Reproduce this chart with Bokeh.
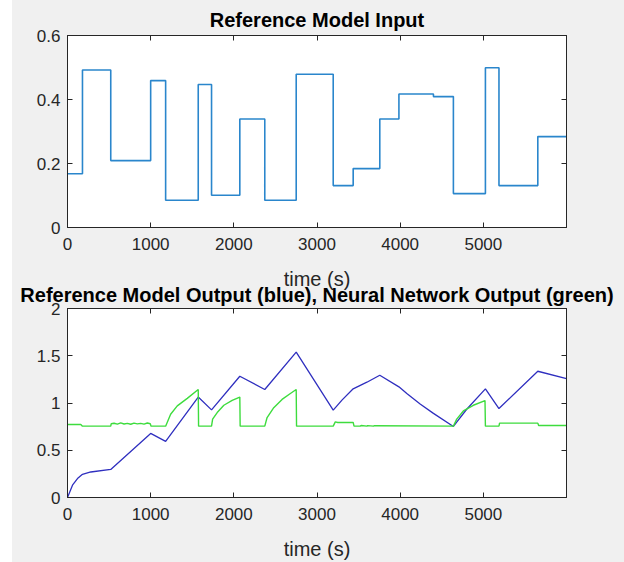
from bokeh.plotting import figure
from bokeh.layouts import column
from bokeh.models import FixedTicker, LinearAxis
from bokeh.embed import file_html
from bokeh.resources import INLINE

# Reference model input: piecewise-constant levels, each held from its start time
step_t = [0, 180, 520, 1000, 1180, 1572, 1732, 2072, 2372, 2750, 3195, 3435,
          3755, 3985, 4400, 4640, 5025, 5188, 5655, 6000]
step_u = [0.168, 0.492, 0.209, 0.459, 0.085, 0.447, 0.101, 0.339, 0.085, 0.479,
          0.131, 0.184, 0.339, 0.417, 0.409, 0.106, 0.499, 0.131, 0.284, 0.284]

# Reference model output (blue)
ref_t = [0, 60, 120, 180, 280, 520, 1000, 1180, 1572, 1732, 2072, 2372, 2750,
         3195, 3300, 3435, 3600, 3755, 3985, 4080, 4240, 4400, 4640, 4800,
         5025, 5188, 5655, 6000]
ref_y = [0.0, 0.13, 0.2, 0.245, 0.27, 0.297, 0.678, 0.594, 1.063, 0.927, 1.283,
         1.143, 1.538, 0.925, 1.03, 1.15, 1.22, 1.294, 1.171, 1.10, 0.99, 0.89,
         0.752, 0.934, 1.15, 0.941, 1.336, 1.259]

# Neural network output (green)
nn_t = [0, 160, 180, 520, 525, 560, 600, 640, 680, 720, 760, 800, 840, 880, 920,
        960, 995, 1005, 1180, 1240, 1320, 1440, 1572, 1576, 1732, 1745, 1800,
        1880, 1980, 2072, 2076, 2372, 2400, 2480, 2580, 2680, 2750, 2754, 3195,
        3220, 3250, 3435, 3445, 3520, 3530, 3600, 3610, 3680, 3690, 4640, 4680,
        4760, 4880, 5020, 5025, 5188, 5195, 5655, 5665, 6000]
nn_y = [0.773, 0.773, 0.755, 0.755, 0.78, 0.786, 0.776, 0.789, 0.778, 0.784,
        0.775, 0.787, 0.779, 0.785, 0.776, 0.788, 0.78, 0.755, 0.755, 0.881,
        0.969, 1.049, 1.143, 0.755, 0.755, 0.829, 0.899, 0.976, 1.028, 1.063,
        0.755, 0.755, 0.846, 0.951, 1.038, 1.101, 1.143, 0.755, 0.755, 0.80,
        0.794, 0.794, 0.755, 0.755, 0.762, 0.755, 0.761, 0.755, 0.76, 0.755,
        0.829, 0.916, 0.976, 1.026, 0.755, 0.755, 0.787, 0.787, 0.762, 0.762]

x_ticks = [0, 1000, 2000, 3000, 4000, 5000]
top_y_ticks = [0, 0.2, 0.4, 0.6]
top_y_labels = ["0", "0.2", "0.4", "0.6"]
bot_y_ticks = [0, 0.5, 1, 1.5, 2]
bot_y_labels = ["0", "0.5", "1", "1.5", "2"]

BG = "#f0f0f0"
INK = "#262626"
FONT = "Liberation Sans"


def make_panel(title, height, border_top, border_bottom, y_range, y_ticks, y_labels,
               title_standoff, **kw):
    p = figure(width=612, height=height, x_range=(0, 6000), y_range=y_range,
               output_backend="svg", toolbar_location=None,
               min_border_left=55, min_border_right=58,
               min_border_top=border_top, min_border_bottom=border_bottom,
               background_fill_color="white", border_fill_color=BG,
               outline_line_color=INK, outline_line_width=1, **kw)
    p.add_layout(LinearAxis(), "above")
    p.add_layout(LinearAxis(), "right")
    p.grid.visible = False

    p.title.text = title
    p.title.align = "center"
    p.title.text_font = FONT
    p.title.text_font_size = "20px"
    p.title.text_font_style = "bold"
    p.title.text_color = "black"
    p.title.standoff = title_standoff

    for ax in p.xaxis + p.yaxis:
        ax.axis_line_color = INK
        ax.major_tick_line_color = INK
        ax.major_tick_in = 5
        ax.major_tick_out = 0
        ax.minor_tick_line_color = None
        ax.major_label_text_font = FONT
        ax.major_label_text_font_size = "17px"
        ax.major_label_text_color = INK
    for ax in p.xaxis:
        ax.ticker = FixedTicker(ticks=x_ticks)
        ax.major_label_standoff = 10
    for ax in p.yaxis:
        ax.ticker = FixedTicker(ticks=y_ticks)
        ax.major_label_overrides = dict(zip(y_ticks, y_labels))
        ax.major_label_standoff = 7

    # the top and right axes only carry tick marks
    for ax in (p.above[0], p.right[0]):
        ax.major_label_text_font_size = "1px"
        ax.major_label_text_color = None
        ax.major_label_standoff = 0

    p.below[0].axis_label = "time (s)"
    p.below[0].axis_label_text_font = FONT
    p.below[0].axis_label_text_font_size = "20px"
    p.below[0].axis_label_text_font_style = "normal"
    p.below[0].axis_label_text_color = INK
    p.below[0].axis_label_standoff = 15
    return p


p1 = make_panel("Reference Model Input", 292, 35, 63, (0, 0.6),
                top_y_ticks, top_y_labels, 10)
p1.step(step_t, step_u, mode="after", line_color="#2a86cc", line_width=1.6)

# the lower panel slides up a little under the upper one's axis label
p2 = make_panel("Reference Model Output (blue), Neural Network Output (green)",
                284, 30, 63, (0, 2), bot_y_ticks, bot_y_labels, 5,
                margin=(-14, 0, 0, 0))
p2.border_fill_alpha = 0
p2.line(ref_t, ref_y, line_color="#2f2fbf", line_width=1.3)
p2.line(nn_t, nn_y, line_color="#3ddc3d", line_width=1.4)

layout = column(p1, p2, margin=(0, 0, 0, 12), styles={"background-color": BG})

with open("out.html", "w") as f:
    f.write(file_html(layout, INLINE))
